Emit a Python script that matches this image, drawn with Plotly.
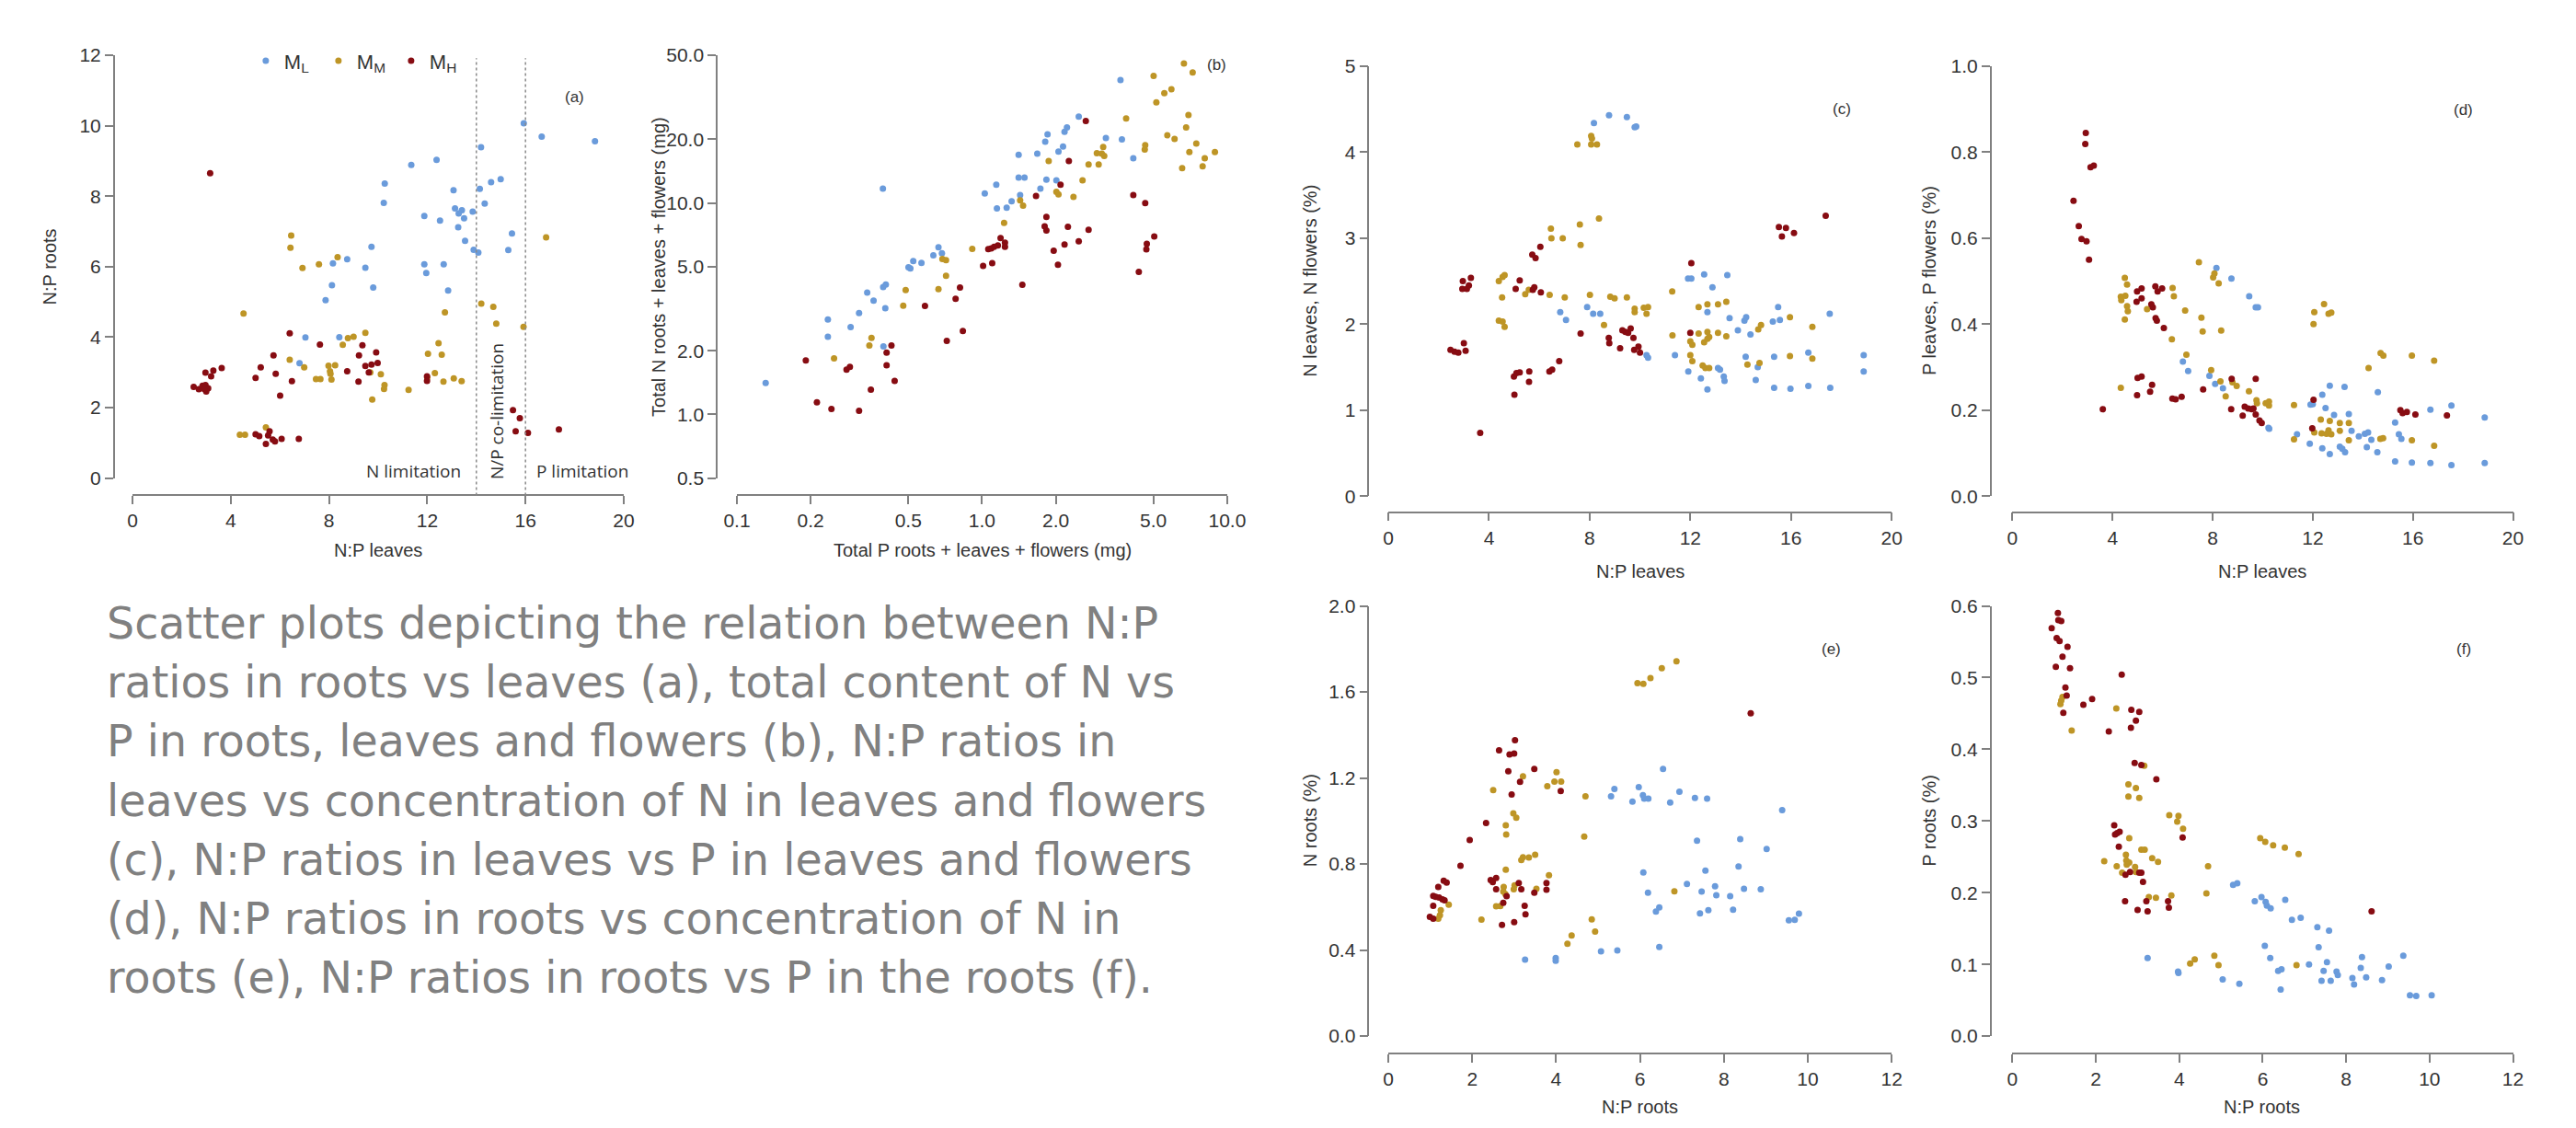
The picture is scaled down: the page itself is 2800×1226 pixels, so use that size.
import math
import plotly.graph_objects as go

# page is 2800x1226; the html body adds an 8px margin, so the figure is 16px smaller
PAGE_W, PAGE_H = 2800, 1226
BODY = 8
W, H = PAGE_W - 2 * BODY, PAGE_H - 2 * BODY

group_names = ["M<sub>L</sub>", "M<sub>M</sub>", "M<sub>H</sub>"]
group_colors = ["#6A9BDB", "#BE9526", "#870C12"]

# ---------------- (a) N:P leaves vs N:P roots ----------------
a_ML_x = [15.93,16.66,18.83,14.19,11.35,12.38,10.27,10.23,14.99,14.6,14.14,13.07,14.34,13.13,13.41,13.28,13.5,13.85,11.88,12.52,13.26,15.45,13.54,13.89,14.08,15.3,9.73,8.74,8.16,9.48,11.88,12.67,11.96,8.12,9.80,12.85,7.86,7.04,8.42,6.8]
a_ML_y = [10.07,9.69,9.56,9.39,8.89,9.03,8.36,7.81,8.48,8.40,8.21,8.17,7.79,7.65,7.6,7.51,7.37,7.56,7.44,7.31,7.12,6.94,6.73,6.48,6.40,6.47,6.56,6.21,6.09,5.97,6.07,6.07,5.82,5.47,5.41,5.32,5.05,3.99,4.0,3.26]
a_MM_x = [6.46,6.43,6.92,7.59,8.35,4.52,16.84,14.2,14.69,14.81,15.92,12.72,9.48,9.0,8.77,8.56,12.46,12.03,12.59,6.40,6.99,7.98,8.25,8.04,8.06,9.68,10.11,7.47,7.65,8.1,10.26,10.24,12.31,12.0,12.66,13.08,13.4,11.24,9.76,4.37,4.58,5.43]
a_MM_y = [6.88,6.54,5.96,6.07,6.27,4.67,6.83,4.95,4.86,4.38,4.29,4.70,4.12,4.01,3.97,3.78,3.83,3.53,3.50,3.36,3.14,3.19,3.20,3.03,2.96,3.0,2.95,2.81,2.81,2.80,2.64,2.53,2.98,2.85,2.74,2.83,2.75,2.50,2.23,1.23,1.23,1.44]
a_MH_x = [3.16,6.40,7.63,9.36,5.74,9.22,9.92,5.22,9.48,9.73,9.98,9.62,8.74,5.83,5.01,6.49,9.2,6.01,11.99,11.99,3.63,3.29,3.20,2.97,2.49,2.70,2.85,2.97,3.08,3.0,2.93,15.49,15.77,15.6,16.1,17.36,5.01,5.16,5.58,5.52,5.71,5.8,5.43,6.07,6.77]
a_MH_y = [8.65,4.11,3.79,3.77,3.48,3.48,3.57,3.14,3.18,3.22,3.27,3.0,3.03,2.96,2.84,2.75,2.74,2.34,2.89,2.76,3.12,3.05,2.89,2.99,2.59,2.52,2.62,2.64,2.55,2.46,2.52,1.93,1.70,1.33,1.28,1.38,1.24,1.19,1.33,1.21,1.09,1.04,0.97,1.11,1.11]
limitation_thresholds = [14, 16]

# ---------------- (b) total P vs total N ----------------
b_ML_x = [0.131,0.235,0.235,0.291,0.315,0.340,0.361,0.395,0.405,0.403,0.396,0.394,0.501,0.51,0.524,0.566,0.633,0.664,0.686,1.026,1.143,1.15,1.26,1.32,1.41,1.41,1.49,1.43,1.68,1.73,1.81,1.85,1.83,2.01,2.05,2.14,2.17,2.22,2.48,3.2,3.67,3.72,4.14]
b_ML_y = [1.41,2.81,2.33,2.59,3.02,3.77,3.45,4.0,4.12,3.18,2.10,11.7,4.96,4.9,5.31,5.21,5.66,6.18,5.79,11.1,12.2,9.44,9.5,10.2,16.9,13.2,13.2,10.9,17.1,11.7,19.5,21.1,12.9,12.8,17.5,18.5,21.7,22.8,25.6,20.3,38.2,20.0,16.3]
b_MM_x = [0.249,0.354,0.347,0.477,0.488,0.664,0.713,0.689,0.713,0.912,1.23,1.47,1.43,1.87,2.01,2.05,2.36,2.57,2.72,2.99,2.94,3.08,3.15,3.12,3.87,4.61,4.63,5.01,5.14,5.54,5.92,5.70,6.10,6.66,7.23,6.95,6.8,7.48,7.01,6.55,7.94,8.1,8.91,10.2]
b_MM_y = [1.84,2.30,2.12,3.27,3.88,3.91,4.53,5.43,5.37,6.07,8.05,9.72,10.3,15.8,11.3,11.0,10.7,12.8,15.2,15.2,17.2,17.1,16.7,18.4,25.1,17.9,18.8,39.9,29.9,33.1,34.5,20.9,20.1,45.7,41.4,26.1,22.8,19.1,17.4,14.6,14.9,16.3,17.4,20.3]
b_MH_x = [0.191,0.212,0.243,0.280,0.289,0.315,0.352,0.408,0.427,0.408,0.440,0.585,0.718,0.78,0.813,0.835,1.01,1.10,1.06,1.09,1.12,1.16,1.19,1.24,1.24,1.46,1.66,1.83,1.80,1.83,1.96,2.04,2.09,2.17,2.24,2.26,2.48,2.65,2.72,4.14,4.63,5.04,4.7,4.68,4.36]
b_MH_y = [1.80,1.14,1.06,1.63,1.68,1.04,1.31,1.96,2.12,1.71,1.44,3.26,2.23,3.52,3.98,2.48,5.04,5.19,6.06,6.1,6.2,6.3,6.82,6.5,6.2,4.11,10.8,8.59,7.75,7.41,5.94,5.11,12.2,6.36,7.72,15.8,6.59,24.4,7.47,10.9,10.0,6.95,6.41,6.04,4.72]

# ---------------- (c) N:P leaves vs N leaves/flowers ----------------
c_ML_x = [8.17,8.77,9.48,9.79,9.85,6.83,7.06,7.90,8.14,8.42,10.26,10.32,11.39,11.91,12.04,12.55,12.88,13.47,12.68,13.56,11.92,12.42,12.68,13.1,13.18,13.33,13.36,13.89,14.15,14.22,14.39,14.2,14.6,14.68,15.28,15.49,15.56,15.33,15.33,15.98,16.69,16.69,17.54,17.56,18.89,18.89]
c_ML_y = [4.34,4.43,4.41,4.29,4.30,2.14,2.05,2.20,2.12,2.12,1.64,1.61,1.64,2.53,2.53,2.58,2.43,2.57,2.14,2.07,1.45,1.37,1.24,1.49,1.47,1.39,1.34,1.93,2.04,2.08,1.88,1.62,1.35,1.50,2.03,2.20,2.05,1.62,1.26,1.25,1.67,1.28,2.12,1.26,1.64,1.45]
c_MM_x = [7.51,8.06,8.09,8.06,8.29,8.37,7.61,7.64,6.46,6.48,6.93,4.39,4.54,4.62,4.52,4.39,4.54,4.62,5.44,5.58,6.41,7.01,8.01,8.57,8.82,8.99,9.48,9.79,9.79,10.15,10.32,10.26,11.28,11.29,12.0,12.08,12.0,12.08,12.33,12.68,13.1,13.43,12.33,12.55,12.68,12.75,13.1,13.43,12.49,12.6,12.75,12.68,14.27,14.75,14.81,14.7,15.96,15.96,16.85,16.85]
c_MM_y = [4.09,4.19,4.16,4.09,4.09,3.23,3.16,2.92,3.11,3.0,3.0,2.50,2.55,2.57,2.31,2.04,2.03,1.97,2.35,2.40,2.34,2.31,2.34,1.99,2.32,2.30,2.31,2.18,2.14,2.19,2.20,2.12,2.38,1.87,1.80,1.76,1.64,1.57,2.20,2.23,2.23,2.26,1.89,1.79,1.83,1.85,1.90,1.86,1.52,1.49,1.49,1.91,1.53,1.55,1.99,1.94,2.08,1.63,1.97,1.60]
c_MH_x = [2.47,2.63,2.78,3.0,3.07,2.96,2.94,3.12,3.2,3.28,3.65,5.06,5.22,4.99,5.09,5.22,5.01,5.59,5.6,5.74,5.8,5.72,5.85,6.04,6.06,6.4,6.51,6.79,7.64,8.76,8.78,9.21,9.3,9.42,9.53,9.63,9.74,9.77,9.94,10.0,12.04,12.0,15.52,15.64,15.8,16.12,17.38]
c_MH_y = [1.70,1.68,1.67,1.78,1.69,2.50,2.41,2.41,2.45,2.54,0.735,2.41,2.51,1.39,1.43,1.44,1.18,1.33,1.45,2.40,2.43,2.81,2.77,2.90,2.37,1.45,1.47,1.57,1.89,1.84,1.78,1.72,1.93,1.91,1.90,1.95,1.84,1.70,1.74,1.67,2.71,1.90,3.13,3.02,3.12,3.06,3.26]

# ---------------- (d) N:P leaves vs P leaves/flowers ----------------
d_ML_x = [8.15,8.75,9.46,9.72,9.81,6.81,7.02,7.87,8.10,8.41,10.23,10.26,11.37,11.88,11.91,12.0,12.38,12.68,12.51,12.38,12.68,12.85,13.08,13.18,13.29,13.27,13.44,13.55,13.84,14.08,14.21,14.16,14.34,14.58,14.6,15.29,15.44,15.54,15.29,15.96,16.70,16.70,17.54,17.54,18.87,18.87]
d_ML_y = [0.531,0.506,0.465,0.439,0.439,0.313,0.291,0.280,0.261,0.251,0.159,0.157,0.144,0.122,0.213,0.214,0.236,0.257,0.205,0.111,0.098,0.189,0.115,0.110,0.102,0.254,0.191,0.152,0.139,0.145,0.148,0.114,0.131,0.102,0.242,0.171,0.144,0.133,0.081,0.078,0.201,0.077,0.211,0.072,0.183,0.077]
d_MM_x = [7.45,8.02,8.07,8.24,4.49,4.58,4.33,4.51,4.35,4.58,4.61,4.49,5.38,6.4,6.45,6.9,7.55,7.6,8.34,6.37,6.95,7.94,8.31,8.79,8.96,8.52,9.45,9.75,9.77,10.12,10.25,10.25,4.33,11.25,11.25,12.03,12.06,12.45,12.63,12.74,12.06,12.32,12.35,12.55,12.68,12.63,12.74,13.08,13.08,13.44,13.44,14.23,14.71,14.82,14.7,14.81,15.96,15.96,16.85,16.85]
d_MM_y = [0.544,0.509,0.518,0.495,0.508,0.492,0.464,0.466,0.456,0.442,0.43,0.411,0.435,0.484,0.465,0.432,0.415,0.383,0.385,0.365,0.329,0.293,0.267,0.265,0.256,0.232,0.244,0.223,0.216,0.216,0.211,0.22,0.252,0.212,0.132,0.4,0.428,0.447,0.424,0.427,0.148,0.178,0.146,0.145,0.175,0.153,0.144,0.170,0.152,0.170,0.130,0.298,0.333,0.327,0.133,0.135,0.327,0.130,0.315,0.117]
d_MH_x = [2.93,2.91,3.12,3.25,2.44,2.65,2.76,2.96,3.06,3.61,4.98,5.16,4.96,5.16,5.71,5.8,5.98,5.55,5.61,5.72,5.77,6.05,5.0,5.16,5.58,5.5,4.98,6.39,6.52,6.76,7.62,8.76,8.74,9.2,9.28,9.42,9.56,9.63,9.72,9.72,9.87,9.96,11.98,12.03,15.5,15.59,15.76,16.1,17.36]
d_MH_y = [0.845,0.819,0.765,0.769,0.687,0.628,0.598,0.593,0.55,0.202,0.476,0.483,0.452,0.46,0.488,0.476,0.483,0.446,0.439,0.414,0.408,0.391,0.275,0.278,0.259,0.243,0.235,0.227,0.225,0.231,0.248,0.273,0.202,0.187,0.208,0.204,0.202,0.204,0.273,0.190,0.176,0.17,0.158,0.224,0.2,0.193,0.196,0.19,0.188]

# ---------------- (e) N:P roots vs N roots ----------------
e_ML_x = [6.55,5.39,5.31,5.97,6.07,6.10,6.2,5.82,6.72,6.94,7.31,7.6,9.39,7.36,8.39,9.02,8.35,7.56,6.08,7.12,7.79,7.47,7.82,8.48,8.88,8.15,6.19,6.46,6.38,7.43,7.63,8.22,9.79,9.55,9.69,6.46,5.07,5.46,3.99,3.99,3.26]
e_ML_y = [1.242,1.149,1.115,1.157,1.12,1.104,1.104,1.09,1.086,1.136,1.107,1.104,1.051,0.908,0.916,0.870,0.789,0.769,0.761,0.707,0.696,0.672,0.655,0.685,0.683,0.650,0.667,0.598,0.579,0.570,0.585,0.587,0.569,0.538,0.540,0.414,0.394,0.398,0.363,0.350,0.355]
e_MM_x = [6.87,6.52,6.25,5.94,6.08,3.21,2.5,4.01,3.96,4.12,3.79,4.70,2.98,3.05,2.80,2.81,4.67,3.17,3.21,3.35,3.5,2.80,3.83,3.53,3.01,2.99,2.75,2.74,2.79,2.67,2.57,1.44,1.25,1.23,1.19,2.22,6.82,4.85,4.93,4.37,4.27]
e_MM_y = [1.742,1.71,1.664,1.641,1.638,1.208,1.144,1.227,1.183,1.183,1.162,1.115,1.035,1.015,0.98,0.937,0.927,0.818,0.831,0.830,0.843,0.773,0.748,0.685,0.701,0.683,0.693,0.672,0.660,0.605,0.603,0.611,0.585,0.562,0.546,0.541,0.673,0.543,0.486,0.468,0.429]
e_MH_x = [8.64,3.02,2.64,2.89,3.0,3.48,2.86,3.14,2.94,4.11,2.33,1.94,1.72,1.32,1.39,1.19,1.07,1.13,1.21,1.29,1.34,1.07,0.99,1.07,2.44,2.49,2.57,2.57,2.82,2.74,2.71,3.0,3.11,3.17,3.25,3.27,3.48,3.77,3.77]
e_MH_y = [1.501,1.376,1.328,1.309,1.314,1.242,1.231,1.182,1.123,1.139,0.991,0.911,0.792,0.722,0.714,0.693,0.652,0.647,0.644,0.636,0.631,0.606,0.554,0.546,0.725,0.716,0.735,0.683,0.650,0.619,0.517,0.530,0.712,0.683,0.606,0.566,0.667,0.712,0.680]

# ---------------- (f) N:P roots vs P roots ----------------
f_ML_x = [5.29,5.39,5.97,5.81,6.07,6.10,6.19,6.54,6.70,6.91,7.31,7.59,7.34,6.05,6.18,3.24,3.97,3.98,5.04,5.44,6.37,6.45,6.43,7.11,7.54,7.46,7.41,7.63,7.77,7.80,8.15,8.19,8.35,8.38,8.48,8.86,9.02,9.37,9.53,9.68,10.05]
f_ML_y = [0.211,0.213,0.194,0.188,0.187,0.182,0.178,0.190,0.162,0.165,0.152,0.147,0.124,0.126,0.109,0.109,0.090,0.088,0.079,0.073,0.091,0.093,0.065,0.100,0.103,0.091,0.077,0.077,0.090,0.085,0.081,0.072,0.095,0.110,0.082,0.078,0.097,0.112,0.057,0.056,0.057]
f_MM_x = [2.49,1.20,1.17,1.15,1.42,3.16,2.78,2.96,2.78,3.04,3.76,3.98,3.95,4.09,2.80,5.94,6.06,6.25,6.53,6.86,2.72,3.09,3.17,3.35,3.49,2.20,2.50,2.73,2.80,2.74,2.94,2.96,2.63,4.69,4.65,3.27,3.44,3.81,4.84,4.94,4.37,4.26,6.81]
f_MM_y = [0.457,0.473,0.468,0.463,0.426,0.377,0.351,0.346,0.334,0.332,0.308,0.307,0.299,0.289,0.276,0.276,0.271,0.266,0.263,0.254,0.253,0.260,0.260,0.248,0.243,0.244,0.237,0.245,0.242,0.239,0.236,0.229,0.228,0.237,0.199,0.194,0.193,0.196,0.112,0.099,0.107,0.101,0.099]
f_MH_x = [1.09,1.10,1.17,0.94,1.06,1.13,1.32,1.20,1.04,1.38,2.62,1.27,1.30,1.70,1.91,1.22,2.85,3.04,2.96,2.84,2.31,2.93,3.09,3.45,2.44,2.51,2.57,2.46,2.55,4.08,2.70,2.71,2.82,3.04,3.09,3.13,3.0,3.21,3.24,3.73,3.75,8.61]
f_MH_y = [0.590,0.580,0.579,0.569,0.555,0.551,0.543,0.529,0.515,0.513,0.504,0.486,0.475,0.462,0.470,0.451,0.455,0.452,0.440,0.430,0.425,0.381,0.378,0.358,0.294,0.283,0.285,0.281,0.264,0.277,0.188,0.225,0.229,0.228,0.228,0.215,0.176,0.188,0.174,0.188,0.179,0.174]

# ---------------- ticks ----------------
ticks_np_leaves = [0, 4, 8, 12, 16, 20]
ticks_np_roots_x = [0, 2, 4, 6, 8, 10, 12]
ticks_a_y = [0, 2, 4, 6, 8, 10, 12]
ticks_b_x = [0.1, 0.2, 0.5, 1.0, 2.0, 5.0, 10.0]
ticks_b_x_text = ["0.1", "0.2", "0.5", "1.0", "2.0", "5.0", "10.0"]
ticks_b_y = [0.5, 1.0, 2.0, 5.0, 10.0, 20.0, 50.0]
ticks_b_y_text = ["0.5", "1.0", "2.0", "5.0", "10.0", "20.0", "50.0"]
ticks_c_y = [0, 1, 2, 3, 4, 5]
ticks_d_y = [0, 0.2, 0.4, 0.6, 0.8, 1.0]
ticks_d_y_text = ["0.0", "0.2", "0.4", "0.6", "0.8", "1.0"]
ticks_e_y = [0, 0.4, 0.8, 1.2, 1.6, 2.0]
ticks_e_y_text = ["0.0", "0.4", "0.8", "1.2", "1.6", "2.0"]
ticks_f_y = [0, 0.1, 0.2, 0.3, 0.4, 0.5, 0.6]
ticks_f_y_text = ["0.0", "0.1", "0.2", "0.3", "0.4", "0.5", "0.6"]

caption_lines = [
    "Scatter plots depicting the relation between N:P",
    "ratios in roots vs leaves (a), total content of N vs",
    "P in roots, leaves and flowers (b), N:P ratios in",
    "leaves vs concentration of N in leaves and flowers",
    "(c), N:P ratios in leaves vs P in leaves and flowers",
    "(d), N:P ratios in roots vs concentration of N in",
    "roots (e), N:P ratios in roots vs P in the roots (f).",
]


def pxx(v):
    # page pixel x -> paper fraction
    return (v - BODY) / W


def pxy(v):
    # page pixel y -> paper fraction
    return 1 - (v - BODY) / H


AX_FONT = "Liberation Sans, Arial, sans-serif"
AX_COLOR = "#808080"
TXT_COLOR = "#333333"

panel_series = {
    1: [(a_ML_x, a_ML_y), (a_MM_x, a_MM_y), (a_MH_x, a_MH_y)],
    2: [(b_ML_x, b_ML_y), (b_MM_x, b_MM_y), (b_MH_x, b_MH_y)],
    3: [(c_ML_x, c_ML_y), (c_MM_x, c_MM_y), (c_MH_x, c_MH_y)],
    4: [(d_ML_x, d_ML_y), (d_MM_x, d_MM_y), (d_MH_x, d_MH_y)],
    5: [(e_ML_x, e_ML_y), (e_MM_x, e_MM_y), (e_MH_x, e_MH_y)],
    6: [(f_ML_x, f_ML_y), (f_MM_x, f_MM_y), (f_MH_x, f_MH_y)],
}

fig = go.Figure()
for k, series in panel_series.items():
    xa = "x" if k == 1 else f"x{k}"
    ya = "y" if k == 1 else f"y{k}"
    for gi, (xs, ys) in enumerate(series):
        fig.add_trace(go.Scatter(
            x=xs, y=ys, mode="markers",
            name=group_names[gi], legendgroup=group_names[gi],
            showlegend=(k == 1),
            marker=dict(color=group_colors[gi], size=7, line=dict(width=0)),
            cliponaxis=False, xaxis=xa, yaxis=ya,
        ))


def axis(domain, rng, tickvals, ticktext=None, position=0.0, log=False):
    d = dict(
        domain=domain, range=rng, tickvals=tickvals, anchor="free", position=position,
        showline=True, linecolor=AX_COLOR, linewidth=1.5,
        ticks="outside", ticklen=9, tickwidth=1.5, tickcolor=AX_COLOR,
        showgrid=False, zeroline=False,
        tickfont=dict(family=AX_FONT, size=21, color=TXT_COLOR),
    )
    if ticktext is not None:
        d["ticktext"] = ticktext
    if log:
        d["type"] = "log"
    return d


top_y_dom = [pxy(517.3), pxy(48.8)]
cd_y_dom = [pxy(537.3), pxy(61.0)]
ef_y_dom = [pxy(1135.5), pxy(658.9)]

layout_axes = dict(
    xaxis=axis([pxx(130.6), pxx(671.3)], [0, 20], ticks_np_leaves, position=pxy(536.5)),
    yaxis=axis(top_y_dom, [0, 12], ticks_a_y, position=pxx(110)),
    xaxis2=axis([pxx(795.9), pxx(1335.6)], [-1, 1], ticks_b_x, ticks_b_x_text, position=pxy(536.5), log=True),
    yaxis2=axis(top_y_dom, [math.log10(0.5), math.log10(50)], ticks_b_y, ticks_b_y_text, position=pxx(773.7), log=True),
    xaxis3=axis([pxx(1513), pxx(2067)], [0, 20], ticks_np_leaves, position=pxy(555)),
    yaxis3=axis(cd_y_dom, [0, 5], ticks_c_y, position=pxx(1491)),
    xaxis4=axis([pxx(2200), pxx(2751)], [0, 20], ticks_np_leaves, position=pxy(555)),
    yaxis4=axis(cd_y_dom, [0, 1], ticks_d_y, ticks_d_y_text, position=pxx(2176)),
    xaxis5=axis([pxx(1513), pxx(2067)], [0, 12], ticks_np_roots_x, position=pxy(1154.6)),
    yaxis5=axis(ef_y_dom, [0, 2], ticks_e_y, ticks_e_y_text, position=pxx(1491)),
    xaxis6=axis([pxx(2200), pxx(2751)], [0, 12], ticks_np_roots_x, position=pxy(1154.6)),
    yaxis6=axis(ef_y_dom, [0, 0.6], ticks_f_y, ticks_f_y_text, position=pxx(2176)),
)

annotations = []


def title(text, x, y, angle=0):
    annotations.append(dict(
        text=text, x=pxx(x), y=pxy(y), xref="paper", yref="paper",
        showarrow=False, textangle=angle, xanchor="center", yanchor="middle",
        font=dict(family=AX_FONT, size=20, color=TXT_COLOR),
    ))


# axis titles
title("N:P leaves", 401, 597)
title("N:P roots", 39, 283, -90)
title("Total P roots + leaves + flowers (mg)", 1066, 597)
title("Total N roots + leaves + flowers (mg)", 710, 283, -90)
title("N:P leaves", 1790, 621)
title("N leaves, N flowers (%)", 1427, 299, -90)
title("N:P leaves", 2475, 621)
title("P leaves, P flowers (%)", 2109, 299, -90)
title("N:P roots", 1790, 1214)
title("N roots (%)", 1427, 897, -90)
title("N:P roots", 2475, 1214)
title("P roots (%)", 2109, 897, -90)

# panel letters
for lab, xr, yr, xv, yv in [
    ("(a)", "x", "y", 17.98, 10.82),
    ("(b)", "x2", "y2", 0.958, 1.653),
    ("(c)", "x3", "y3", 18.03, 4.50),
    ("(d)", "x4", "y4", 18.0, 0.898),
    ("(e)", "x5", "y5", 10.55, 1.80),
    ("(f)", "x6", "y6", 10.83, 0.54),
]:
    annotations.append(dict(
        text=lab, x=xv, y=yv, xref=xr, yref=yr, showarrow=False,
        xanchor="center", yanchor="middle",
        font=dict(family=AX_FONT, size=17, color=TXT_COLOR),
    ))

# limitation region labels in (a)
LIM_FONT = dict(family="Open Sans, sans-serif", size=19, color=TXT_COLOR)
annotations.append(dict(text="N limitation", x=11.43, y=0.2, xref="x", yref="y",
                        showarrow=False, xanchor="center", yanchor="middle", font=LIM_FONT))
annotations.append(dict(text="P limitation", x=18.3, y=0.2, xref="x", yref="y",
                        showarrow=False, xanchor="center", yanchor="middle", font=LIM_FONT))
annotations.append(dict(text="N/P co-limitation", x=14.84, y=1.9, xref="x", yref="y",
                        showarrow=False, textangle=-90, xanchor="center", yanchor="middle",
                        font=LIM_FONT))

# caption
for i, line in enumerate(caption_lines):
    annotations.append(dict(
        text=line, x=pxx(100), y=pxy(678 + i * 65.5), xref="paper", yref="paper",
        showarrow=False, xanchor="left", yanchor="middle",
        font=dict(family="DejaVu Sans, Verdana, sans-serif", size=47.5, color="#808080"),
    ))

shapes = []
for t in limitation_thresholds:
    shapes.append(dict(
        type="line", xref="x", yref="paper", x0=t, x1=t,
        y0=pxy(536.5), y1=pxy(52),
        line=dict(color="#8a8a8a", width=1.5, dash="dot"),
    ))

fig.update_layout(
    width=W, height=H,
    margin=dict(l=0, r=0, t=0, b=0),
    paper_bgcolor="white", plot_bgcolor="white",
    showlegend=True,
    legend=dict(
        orientation="h", x=pxx(257), xanchor="left", y=pxy(55), yanchor="middle",
        font=dict(family=AX_FONT, size=22, color=TXT_COLOR),
        bgcolor="rgba(0,0,0,0)", entrywidth=34, entrywidthmode="pixels",
        itemwidth=30, traceorder="normal",
    ),
    annotations=annotations,
    shapes=shapes,
    **layout_axes,
)

fig.write_html("out.html")
